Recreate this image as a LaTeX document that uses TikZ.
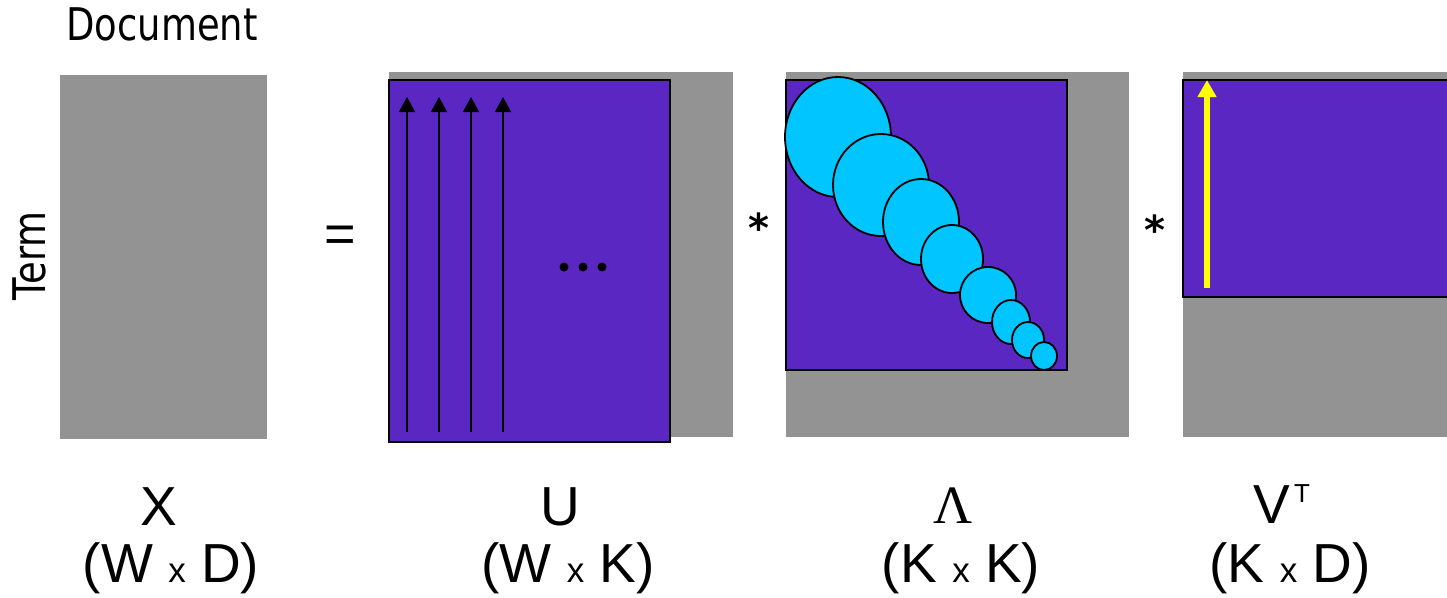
\documentclass[tikz,border=0pt]{standalone}
\usepackage{fontspec}
\setmainfont{Liberation Sans}
\newfontfamily\tahfont[FakeStretch=0.82]{DejaVu Sans}
\newfontfamily\starfont{DejaVu Sans}
\newfontfamily\serifgr{Liberation Serif}
\usetikzlibrary{arrows.meta}
\definecolor{matgray}{HTML}{939393}
\definecolor{matpurple}{HTML}{5B27C3}
\definecolor{eigcyan}{HTML}{00C5FF}
\definecolor{vecyellow}{HTML}{FFFF00}
\tikzset{
  graybox/.style={fill=matgray},
  purplebox/.style={fill=matpurple, draw=black, line width=2pt},
  eig/.style={fill=eigcyan, draw=black, line width=1.8pt},
  colarrow/.style={draw=black, line width=1.8pt, -{Triangle[length=15pt,width=16pt]}},
  yelarrow/.style={draw=vecyellow, line width=6pt, -{Triangle[length=17pt,width=18pt]}},
  dimlabel/.style={inner sep=0pt, anchor=base, font=\fontsize{55}{60}\selectfont},
  titletxt/.style={inner sep=0pt, anchor=base, font=\tahfont\fontsize{45}{50}\selectfont},
  optxt/.style={inner sep=0pt, anchor=base},
  startxt/.style={inner sep=0pt, anchor=base, font=\starfont\bfseries\fontsize{40}{40}\selectfont},
  dotmark/.style={fill=black, draw=none}
}
\newcommand{\smallx}{{\fontsize{35}{35}\selectfont x}}
\begin{document}
\begin{tikzpicture}[x=1pt,y=-1pt]
\useasboundingbox (0,0) rectangle (1447,597);
\clip (0,0) rectangle (1447,597);
% X
\path[graybox] (60,75) rectangle (267,439);
\node[titletxt] (doc) at (162,40) {Document};
\node[titletxt, rotate=90] (term) at (45,256) {Term};
\node[optxt, font=\fontsize{54}{60}\selectfont] (eq) at (340,252) {=};
% U
\path[graybox] (389,72) rectangle (733,437);
\path[purplebox] (389,80) rectangle (670,442);
\foreach \i/\xx in {1/407,2/439,3/471,4/503}{
  \coordinate (ub\i) at (\xx,432);
  \coordinate (ut\i) at (\xx,97);
  \draw[colarrow] (ub\i) -- (ut\i);
}
\foreach \xx in {564,583,602}{
  \fill[dotmark] (\xx,267) circle (4.5);
}
\node[startxt] (st1) at (759,242) {*};
% Lambda
\path[graybox] (786,72) rectangle (1129,437);
\path[purplebox] (786,80) rectangle (1067,370);
\foreach \cx/\cy/\rx/\ry in {838/137/53/60, 881/185/48/51, 921/222/38/43, 952/259/31/34, 988/295/28/28, 1011/322/19/22, 1028/340/16/18, 1044/356/13/14}{
  \path[eig] (\cx,\cy) ellipse [x radius=\rx, y radius=\ry];
}
\node[startxt] (st2) at (1155,244) {*};
% V^T
\path[graybox] (1183,72) rectangle (1460,437);
\path[purplebox] (1183,80) rectangle (1460,297);
\coordinate (yb) at (1207,288);
\coordinate (yt) at (1207,80);
\draw[yelarrow] (yb) -- (yt);
% labels
\node[dimlabel] (lx) at (159,525) {X};
\node[dimlabel] (lxd) at (171,582) {(W \smallx{} D)};
\node[dimlabel] (lu) at (560,525) {U};
\node[dimlabel] (lud) at (568,582) {(W \smallx{} K)};
\node[dimlabel, font=\serifgr\fontsize{54}{60}\selectfont] (ll) at (953,523) {Λ};
\node[dimlabel] (lld) at (961,582) {(K \smallx{} K)};
\node[dimlabel] (lv) at (1272,523) {V};
\node[dimlabel, font=\fontsize{26}{30}\selectfont] (lt) at (1302,502) {T};
\node[dimlabel] (lvd) at (1290,582) {(K \smallx{} D)};
\end{tikzpicture}
\end{document}
